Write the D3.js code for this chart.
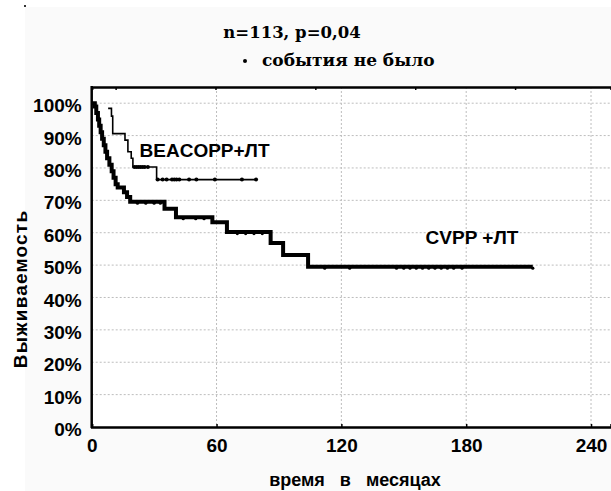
<!DOCTYPE html>
<html>
<head>
<meta charset="utf-8">
<script src="https://cdn.jsdelivr.net/npm/d3@7"></script>
<style>
  body { margin: 0; background: #fff; }
  svg text { font-family: Arial, "Liberation Sans", sans-serif; font-weight: bold; }
</style>
</head>
<body>
<div class="kmchart"></div>
<script>
// Kaplan-Meier steps (months, survival fraction)
var cvppTimes = [0, 1.5, 2.2, 3, 3.6, 4.3, 5, 5.8, 6.6, 7.4, 8.5, 9.6, 10.5, 11.5, 12.5, 15.5, 17, 18.5, 35, 40.5, 58, 65, 86, 92, 104, 212];
var cvppSurv  = [1, 0.99, 0.97, 0.95, 0.93, 0.91, 0.89, 0.87, 0.85, 0.83, 0.81, 0.79, 0.77, 0.75, 0.74, 0.725, 0.71, 0.696, 0.674, 0.648, 0.632, 0.602, 0.568, 0.531, 0.495, 0.495];
var cvppCensT = [22, 26, 30, 33, 44, 50, 54, 70, 74, 78, 82, 112, 124, 146.5, 150, 153, 156, 159, 162, 165, 168, 171, 174, 178, 212];

var beaTimes = [7.9, 9.5, 10.1, 16, 17.4, 19, 19.8, 31.2, 79];
var beaSurv  = [0.984, 0.96, 0.906, 0.886, 0.85, 0.83, 0.803, 0.764, 0.764];
var beaCensT = [20.5, 21.5, 22.5, 23.5, 24.5, 25.5, 27, 31.7, 34.1, 36, 38.6, 39.7, 40.8, 42.1, 46.8, 50.3, 59.2, 72.2, 79];

var xTicks = [0, 60, 120, 180, 240];
var topTicks = [11.5, 59.5, 107.5, 155.5, 203.5];
var yTicks = [0, 0.1, 0.2, 0.3, 0.4, 0.5, 0.6, 0.7, 0.8, 0.9, 1.0];

var title = "n=113, p=0,04";
var legendLabel = "события не было";
var xLabel = "время   в   месяцах";
var yLabel = "Выживаемость";

function survAt(times, surv, t) {
    // value of a step function at time t
    var s = surv[0];
    for (var i = 0; i < times.length; i++) {
        if (times[i] <= t) s = surv[i];
    }
    return s;
}

function drawChart() {
    var W = 611, H = 491;
    var left = 91.7, right = 611, top = 87, bottom = 427;

    var svg = d3.select(".kmchart").append("svg")
        .attr("width", W)
        .attr("height", H);

    // grey page background like the original export
    svg.append("rect").attr("x", 25).attr("y", 7)
        .attr("width", W - 25).attr("height", H - 7).attr("fill", "#fafafa");
    svg.append("rect").attr("x", 24).attr("y", 5).attr("width", 2).attr("height", 2).attr("fill", "#333");
    svg.append("rect").attr("x", left).attr("y", top)
        .attr("width", right - left).attr("height", bottom - top).attr("fill", "#fff");

    var xScale = d3.scaleLinear().domain([0, 249.6]).range([left, right]);
    var yScale = d3.scaleLinear().domain([0, 1.05]).range([bottom, top]);

    // grid
    var grid = svg.append("g").attr("class", "grid");
    grid.selectAll(".hgrid").data(yTicks.slice(1)).enter().append("line")
        .attr("x1", left).attr("x2", right)
        .attr("y1", d => yScale(d)).attr("y2", d => yScale(d))
        .attr("stroke", "#bdbdbd").attr("stroke-width", 1).attr("stroke-dasharray", "2,2");
    grid.selectAll(".vgrid").data(xTicks.slice(1)).enter().append("line")
        .attr("y1", top).attr("y2", bottom)
        .attr("x1", d => xScale(d)).attr("x2", d => xScale(d))
        .attr("stroke", "#bdbdbd").attr("stroke-width", 1).attr("stroke-dasharray", "2,2");

    // axes
    var xAxis = d3.axisBottom(xScale).tickValues(xTicks).tickSize(-3).tickFormat(d3.format("d"));
    svg.append("g").attr("class", "xAxis")
        .attr("transform", `translate(0,${bottom})`)
        .call(xAxis)
        .call(g => {
            g.select(".domain").attr("stroke", "#000").attr("stroke-width", 2.5);
            g.selectAll("line").attr("stroke", "#000").attr("stroke-width", 1.5);
            g.selectAll("text").attr("fill", "#000").style("font-size", "19px").attr("y", 12).attr("dy", "0.71em");
        });

    var yAxis = d3.axisLeft(yScale).tickValues(yTicks).tickSize(0).tickFormat(d3.format(".0%")).tickPadding(10);
    svg.append("g").attr("class", "yAxis")
        .attr("transform", `translate(${left},0)`)
        .call(yAxis)
        .call(g => {
            g.select(".domain").remove();
            g.selectAll("text").attr("fill", "#000").style("font-size", "19px").attr("dy", "0.45em");
        });

    var topAxis = d3.axisTop(xScale).tickValues(topTicks).tickSize(-3).tickFormat("");
    svg.append("g").attr("transform", `translate(0,${top})`)
        .call(topAxis)
        .call(g => {
            g.select(".domain").attr("stroke", "#000").attr("stroke-width", 2.5);
            g.selectAll("line").attr("stroke", "#000").attr("stroke-width", 1.5);
        });

    svg.append("line").attr("x1", left).attr("x2", left).attr("y1", top - 1).attr("y2", bottom + 1)
        .attr("stroke", "#000").attr("stroke-width", 2.5);

    // survival curves
    var line = d3.line()
        .x(d => xScale(d[0]))
        .y(d => yScale(d[1]))
        .curve(d3.curveStepAfter);

    var cvpp = cvppTimes.map((t, i) => [t, cvppSurv[i]]);
    var bea = beaTimes.map((t, i) => [t, beaSurv[i]]);

    svg.append("path").datum(bea)
        .attr("fill", "none").attr("stroke", "#000").attr("stroke-width", 1.6)
        .attr("d", line);
    svg.append("path").datum(cvpp)
        .attr("fill", "none").attr("stroke", "#000").attr("stroke-width", 4)
        .attr("stroke-linejoin", "miter")
        .attr("d", line);

    // censored observations
    svg.selectAll(".censB").data(beaCensT).enter().append("circle")
        .attr("cx", d => xScale(d))
        .attr("cy", d => yScale(survAt(beaTimes, beaSurv, d)))
        .attr("r", 2).attr("fill", "#000");
    svg.selectAll(".censC").data(cvppCensT).enter().append("circle")
        .attr("cx", d => xScale(d))
        .attr("cy", d => yScale(survAt(cvppTimes, cvppSurv, d)) + 1.5)
        .attr("r", 1.6).attr("fill", "#000");

    // curve labels
    svg.append("text").attr("x", xScale(23)).attr("y", yScale(0.835))
        .style("font-size", "19px").text("BEACOPP+ЛТ");
    svg.append("text").attr("x", xScale(160.5)).attr("y", yScale(0.565))
        .style("font-size", "19px").text("CVPP +ЛТ");

    // title and legend
    svg.append("text").attr("x", 292).attr("y", 38)
        .attr("text-anchor", "middle")
        .style("font-family", "'DejaVu Serif', serif").style("font-size", "16.5px")
        .text(title);
    svg.append("circle").attr("cx", 245).attr("cy", 61).attr("r", 2).attr("fill", "#000");
    svg.append("text").attr("x", 262).attr("y", 66)
        .style("font-family", "'DejaVu Serif', serif").style("font-size", "17px")
        .text(legendLabel);

    // axis titles
    svg.append("text").attr("x", 355).attr("y", 486)
        .attr("text-anchor", "middle").style("font-size", "18px")
        .style("white-space", "pre")
        .text(xLabel);
    svg.append("text")
        .attr("transform", "translate(27,289) rotate(-90)")
        .attr("text-anchor", "middle").style("font-size", "19px")
        .style("letter-spacing", "1.2px")
        .text(yLabel);
}

drawChart();
</script>
</body>
</html>
